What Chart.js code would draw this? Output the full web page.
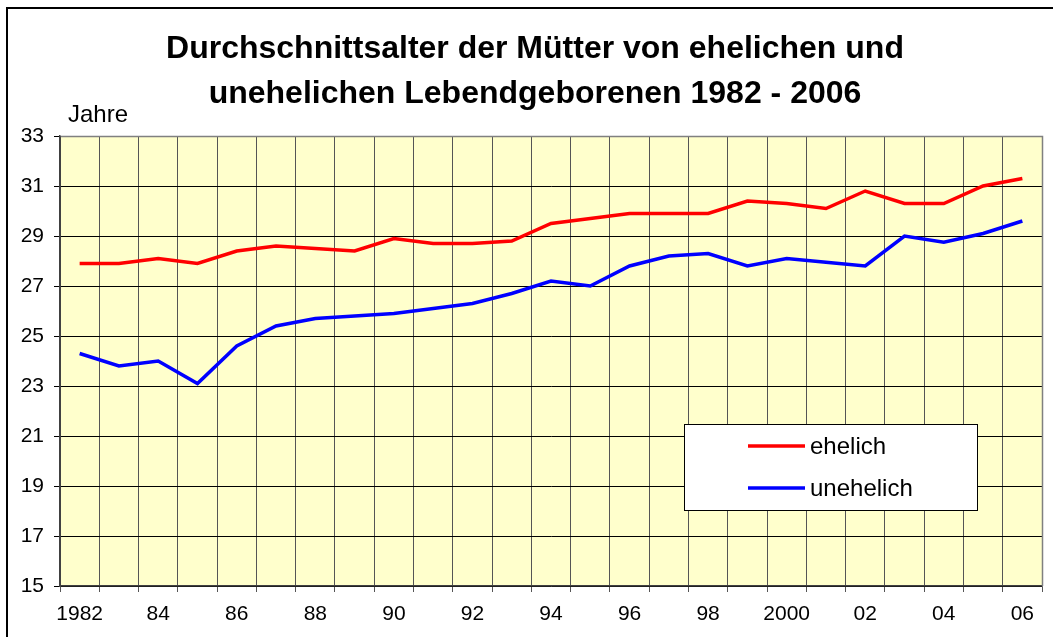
<!DOCTYPE html>
<html>
<head>
<meta charset="utf-8">
<script src="https://cdn.jsdelivr.net/npm/chart.js@4.4.0/dist/chart.umd.min.js"></script>
<style>
html,body{margin:0;padding:0;background:#fff;}
#wrap{width:1053px;height:637px;position:relative;}
</style>
</head>
<body>
<div id="wrap"><canvas id="c" width="1053" height="637"></canvas></div>
<script>
const years = ['1982','1983','1984','1985','1986','1987','1988','1989','1990','1991','1992','1993','1994','1995','1996','1997','1998','1999','2000','2001','2002','2003','2004','2005','2006'];
const tickLabels = ['1982','84','86','88','90','92','94','96','98','2000','02','04','06'];
const ehelich = [27.9,27.9,28.1,27.9,28.4,28.6,28.5,28.4,28.9,28.7,28.7,28.8,29.5,29.7,29.9,29.9,29.9,30.4,30.3,30.1,30.8,30.3,30.3,31.0,31.3];
const unehelich = [24.3,23.8,24.0,23.1,24.6,25.4,25.7,25.8,25.9,26.1,26.3,26.7,27.2,27.0,27.8,28.2,28.3,27.8,28.1,27.95,27.8,29.0,28.75,29.1,29.6];
const seriesNames = ['ehelich','unehelich'];
const titleLines = ['Durchschnittsalter der Mütter von ehelichen und','unehelichen Lebendgeborenen 1982 - 2006'];
const yUnit = 'Jahre';

const FONT = '"Liberation Sans", Arial, Helvetica, sans-serif';

const decor = {
  id:'decor',
  beforeDraw(chart){
    const ctx = chart.ctx, a = chart.chartArea;
    ctx.save();
    ctx.fillStyle = '#fff';
    ctx.fillRect(0,0,chart.width,chart.height);
    ctx.fillStyle = '#FFFFCC';
    ctx.fillRect(a.left,a.top,a.right-a.left,a.bottom-a.top);
    ctx.restore();
  },
  afterDraw(chart){
    const ctx = chart.ctx, a = chart.chartArea;
    ctx.save();
    ctx.strokeStyle = '#808080'; ctx.lineWidth = 1.5;
    ctx.beginPath();
    ctx.moveTo(a.left,a.top+0.5); ctx.lineTo(a.right+0.5,a.top+0.5); ctx.lineTo(a.right+0.5,a.bottom);
    ctx.stroke();
    ctx.strokeStyle = '#404040'; ctx.lineWidth = 1.5;
    ctx.beginPath(); ctx.moveTo(a.left,a.top); ctx.lineTo(a.left,a.bottom); ctx.stroke();
    ctx.strokeStyle = '#000'; ctx.lineWidth = 2;
    ctx.strokeRect(7,8,1100,700);
    ctx.fillStyle = '#000';
    ctx.font = 'bold 32px ' + FONT;
    ctx.textAlign = 'center'; ctx.textBaseline = 'middle';
    ctx.fillText(titleLines[0], 535, 49);
    ctx.fillText(titleLines[1], 535, 94);
    ctx.font = '24px ' + FONT;
    ctx.textAlign = 'left';
    ctx.fillText(yUnit, 68, 115);
    const lx=684, ly=424, lw=293, lh=86;
    ctx.fillStyle='#fff'; ctx.fillRect(lx,ly,lw,lh);
    ctx.strokeStyle='#000'; ctx.lineWidth=1; ctx.strokeRect(lx+0.5,ly+0.5,lw,lh);
    const ds = chart.data.datasets;
    const rows=[446,488];
    ds.forEach((d,i)=>{
      ctx.strokeStyle=d.borderColor; ctx.lineWidth=3.5; ctx.lineCap='butt';
      ctx.beginPath(); ctx.moveTo(748,rows[i]); ctx.lineTo(805,rows[i]); ctx.stroke();
      ctx.fillStyle='#000'; ctx.font='24px '+FONT; ctx.textAlign='left'; ctx.textBaseline='middle';
      ctx.fillText(d.label, 810, rows[i]+1);
    });
    ctx.restore();
  }
};

new Chart(document.getElementById('c'), {
  type:'line',
  data:{
    labels: years,
    datasets:[
      {label:seriesNames[0], data:ehelich, borderColor:'#FF0000', borderWidth:3.5, pointRadius:0, tension:0, fill:false},
      {label:seriesNames[1], data:unehelich, borderColor:'#0000FF', borderWidth:3.5, pointRadius:0, tension:0, fill:false}
    ]
  },
  options:{
    responsive:false,
    animation:false,
    devicePixelRatio:1,
    layout:{padding:{top:136,right:11,left:0,bottom:0}},
    plugins:{legend:{display:false}, title:{display:false}, tooltip:{enabled:false}},
    scales:{
      x:{
        type:'category',
        offset:true,
        grid:{offset:true, color:'#555', lineWidth:1, drawTicks:true, tickLength:6, tickColor:'#555'},
        border:{color:'#404040', width:1.5},
        ticks:{autoSkip:false, maxRotation:0, minRotation:0, color:'#000', font:{family:FONT,size:21}, padding:10,
          callback:(v,i)=> i%2===0 ? tickLabels[i/2] : ''},
        afterFit:(s)=>{s.height=51;}
      },
      y:{
        min:15, max:33,
        grid:{color:'#000', lineWidth:1, tickLength:6, tickColor:'#000'},
        border:{color:'#404040', width:1.5},
        ticks:{stepSize:2, color:'#000', font:{family:FONT,size:21}, padding:10},
        afterFit:(s)=>{s.width=60;}
      }
    }
  },
  plugins:[decor]
});
</script>
</body>
</html>
